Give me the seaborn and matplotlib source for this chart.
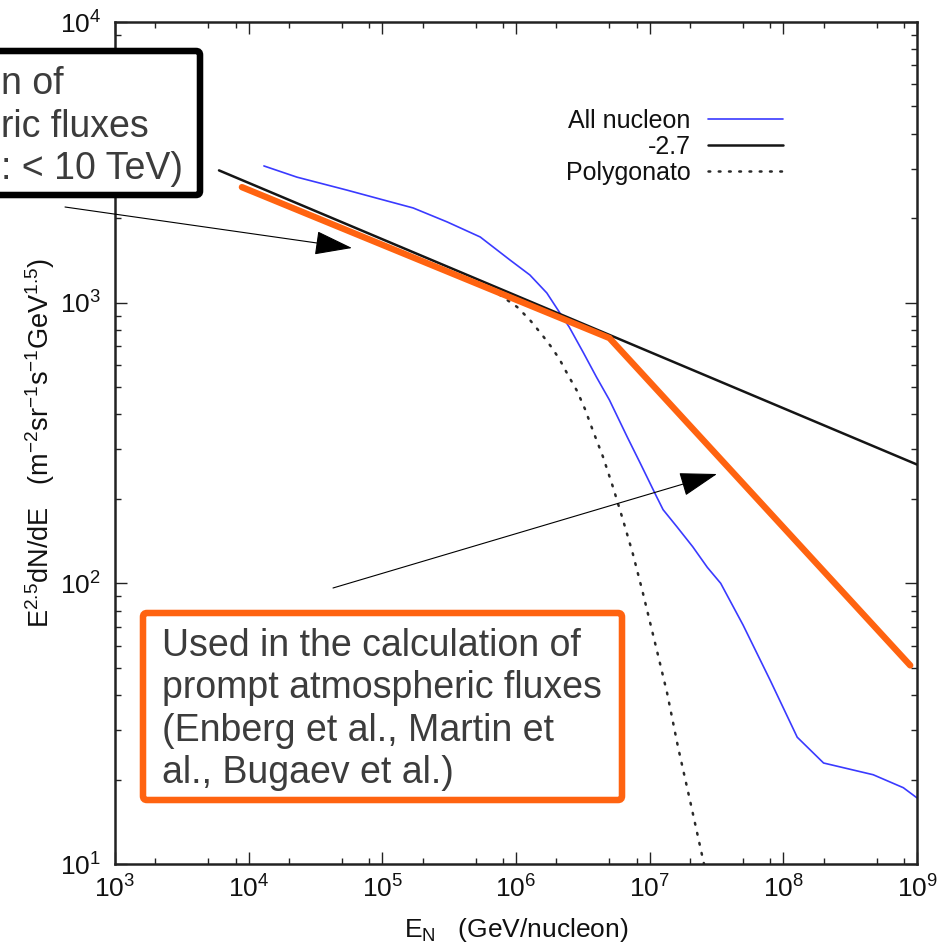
import matplotlib
matplotlib.use("Agg")
import matplotlib.pyplot as plt
import seaborn as sns
from matplotlib.patches import FancyBboxPatch, FancyArrowPatch
from matplotlib.lines import Line2D
from matplotlib.transforms import Affine2D
from matplotlib.ticker import LogLocator, NullFormatter

# All-nucleon spectrum, E^2.5 dN/dE
nucleon_energy = [1.3e4, 2.3e4, 5.4e4, 9.6e4, 1.7e5, 3.05e5, 5.4e5, 9.0e5, 1.27e6,
                  1.7e6, 2.13e6, 2.5e6, 3.2e6, 4.0e6, 5.0e6, 6.8e6, 8.5e6, 1.13e7,
                  1.26e7, 1.6e7, 2.1e7, 2.7e7, 3.4e7, 5.0e7, 8.0e7, 1.27e8, 2.0e8,
                  4.7e8, 7.9e8, 1.0e9]
nucleon_flux = [3070, 2800, 2520, 2340, 2175, 1940, 1714, 1420, 1255,
                1083, 919, 819, 662, 543, 450, 332, 268, 203,
                183, 159, 135, 114, 100, 71, 45, 28.3, 22.9,
                20.8, 18.7, 17.2]

# Single power law with index -2.7
powerlaw_energy = [6.0e3, 1.0e9]
powerlaw_flux = [2960, 265]

# Polygonato model
poly_energy = [6.4e5, 7.6e5, 1.02e6, 1.27e6, 1.57e6, 1.86e6, 2.13e6, 2.45e6, 2.86e6,
               3.28e6, 3.77e6, 4.48e6, 5.32e6, 6.32e6, 7.5e6, 8.9e6, 1.13e7, 1.35e7,
               1.63e7, 2.0e7, 2.46e7, 2.55e7]
poly_flux = [1110, 1065, 965, 868, 767, 690, 625, 552, 485,
             418, 349, 282, 220, 168, 127, 92.4, 57.9, 40.7,
             26.1, 16.9, 10.8, 10.0]

# Broken power law (-2.7 below the knee, -3.0 above)
broken_energy = [8.9e3, 5.0e6, 8.9e8]
broken_flux = [2580, 748, 51]

legend_labels = ["All nucleon", "-2.7", "Polygonato"]
x_ticks = [1e3, 1e4, 1e5, 1e6, 1e7, 1e8, 1e9]

W, H = 940, 944
BLUE = "#3a3aff"
ORANGE = "#ff6310"
TEXT_GREY = "#3c3c3c"
DOTS = (0, (0.7, 3.4))

sns.set_theme(style="ticks")
plt.rcParams["font.family"] = ["Liberation Sans", "DejaVu Sans"]
plt.rcParams["mathtext.fontset"] = "custom"
plt.rcParams["mathtext.rm"] = "Liberation Sans"
plt.rcParams["mathtext.it"] = "Liberation Sans:italic"
plt.rcParams["mathtext.bf"] = "Liberation Sans:bold"
plt.rcParams["mathtext.default"] = "regular"

fig = plt.figure(figsize=(W / 100, H / 100), dpi=100)
ax = fig.add_axes([115 / W, 80 / H, 802 / W, 842 / H])
px = Affine2D().scale(1 / W, 1 / H) + fig.transFigure  # pixel coords, origin bottom-left

sns.lineplot(x=nucleon_energy, y=nucleon_flux, ax=ax, color=BLUE, lw=1.2,
             sort=False, estimator=None, zorder=2)
sns.lineplot(x=poly_energy, y=poly_flux, ax=ax, color="#2a2a2a", lw=1.8,
             linestyle=DOTS, dash_capstyle="round",
             sort=False, estimator=None, zorder=2)
sns.lineplot(x=powerlaw_energy, y=powerlaw_flux, ax=ax, color="#151515", lw=1.8,
             sort=False, estimator=None, zorder=3)
sns.lineplot(x=broken_energy, y=broken_flux, ax=ax, color=ORANGE, lw=4.6,
             sort=False, estimator=None, zorder=4, solid_joinstyle="miter")

ax.set_xscale("log")
ax.set_yscale("log")
ax.set_xlim(1e3, 1e9)
ax.set_ylim(10, 1e4)

ax.xaxis.set_major_locator(LogLocator(base=10, numticks=20))
ax.xaxis.set_minor_locator(LogLocator(base=10, subs=(2, 5, 8), numticks=20))
ax.xaxis.set_minor_formatter(NullFormatter())
ax.yaxis.set_major_locator(LogLocator(base=10, numticks=20))
ax.yaxis.set_minor_locator(LogLocator(base=10, subs=range(2, 10), numticks=20))
ax.yaxis.set_minor_formatter(NullFormatter())
ax.set_xticks(x_ticks)

ax.tick_params(which="both", direction="in", top=True, right=True, color="#222222",
               labelsize=19, labelcolor="#111111")
ax.tick_params(which="major", length=8.5, width=1.0)
ax.tick_params(which="minor", length=4.5, width=1.0)
ax.tick_params(axis="x", which="major", pad=8)
ax.tick_params(axis="y", which="major", pad=10)
for sp in ax.spines.values():
    sp.set_linewidth(1.8)
    sp.set_color("#222222")
ax.grid(False)

ax.set_xlabel(r"E$_\mathregular{N}$   (GeV/nucleon)", fontsize=19, color="#111111")
ax.set_ylabel(r"E$^{2.5}$dN/dE   (m$^{-2}$sr$^{-1}$s$^{-1}$GeV$^{1.5}$)",
              fontsize=19.5, color="#111111")
ax.xaxis.set_label_coords(0.5, -0.062)
ax.yaxis.set_label_coords(-0.072, 0.5)

handles = [Line2D([], [], color=BLUE, lw=1.2),
           Line2D([], [], color="#151515", lw=1.8),
           Line2D([], [], color="#2a2a2a", lw=1.8, linestyle=DOTS,
                  dash_capstyle="round")]
leg = ax.legend(handles, legend_labels, loc="upper right", frameon=False,
                markerfirst=False, fontsize=18, handlelength=3.0,
                handletextpad=0.7, labelspacing=0.08, borderpad=0, borderaxespad=0,
                bbox_to_anchor=(783 / W, (H - 109) / H), bbox_transform=fig.transFigure)
for t in leg.get_texts():
    t.set_color("#111111")

# Annotation box: conventional fluxes (extends past the left edge)
fig.add_artist(FancyBboxPatch((-30, H - 195), 230, 144,
                              boxstyle="round,pad=0,rounding_size=4",
                              transform=px, lw=4.7, ec="black", fc="white", zorder=6))
fig.text(1, H - 179, "n of\nric fluxes\n: < 10 TeV)", transform=px, ha="left",
         va="baseline", fontsize=27, color=TEXT_GREY, linespacing=1.23, zorder=7)

# Annotation box: prompt fluxes
fig.add_artist(FancyBboxPatch((143, H - 800), 479, 187,
                              boxstyle="round,pad=0,rounding_size=4",
                              transform=px, lw=4.7, ec=ORANGE, fc="white", zorder=6))
fig.text(162, H - 783,
         "Used in the calculation of\nprompt atmospheric fluxes\n"
         "(Enberg et al., Martin et\nal., Bugaev et al.)",
         transform=px, ha="left", va="baseline", fontsize=27, color=TEXT_GREY,
         linespacing=1.23, zorder=7)

# Pointer arrows
for start, tip in [((65, H - 207), (352, H - 248)), ((333, H - 588), (717, H - 474))]:
    fig.add_artist(FancyArrowPatch(start, tip, transform=px,
                                   arrowstyle="-|>,head_length=1.0,head_width=0.32",
                                   mutation_scale=24, lw=0.8, color="black",
                                   shrinkA=0, shrinkB=0, zorder=8))

fig.savefig("out.png", dpi=100)
